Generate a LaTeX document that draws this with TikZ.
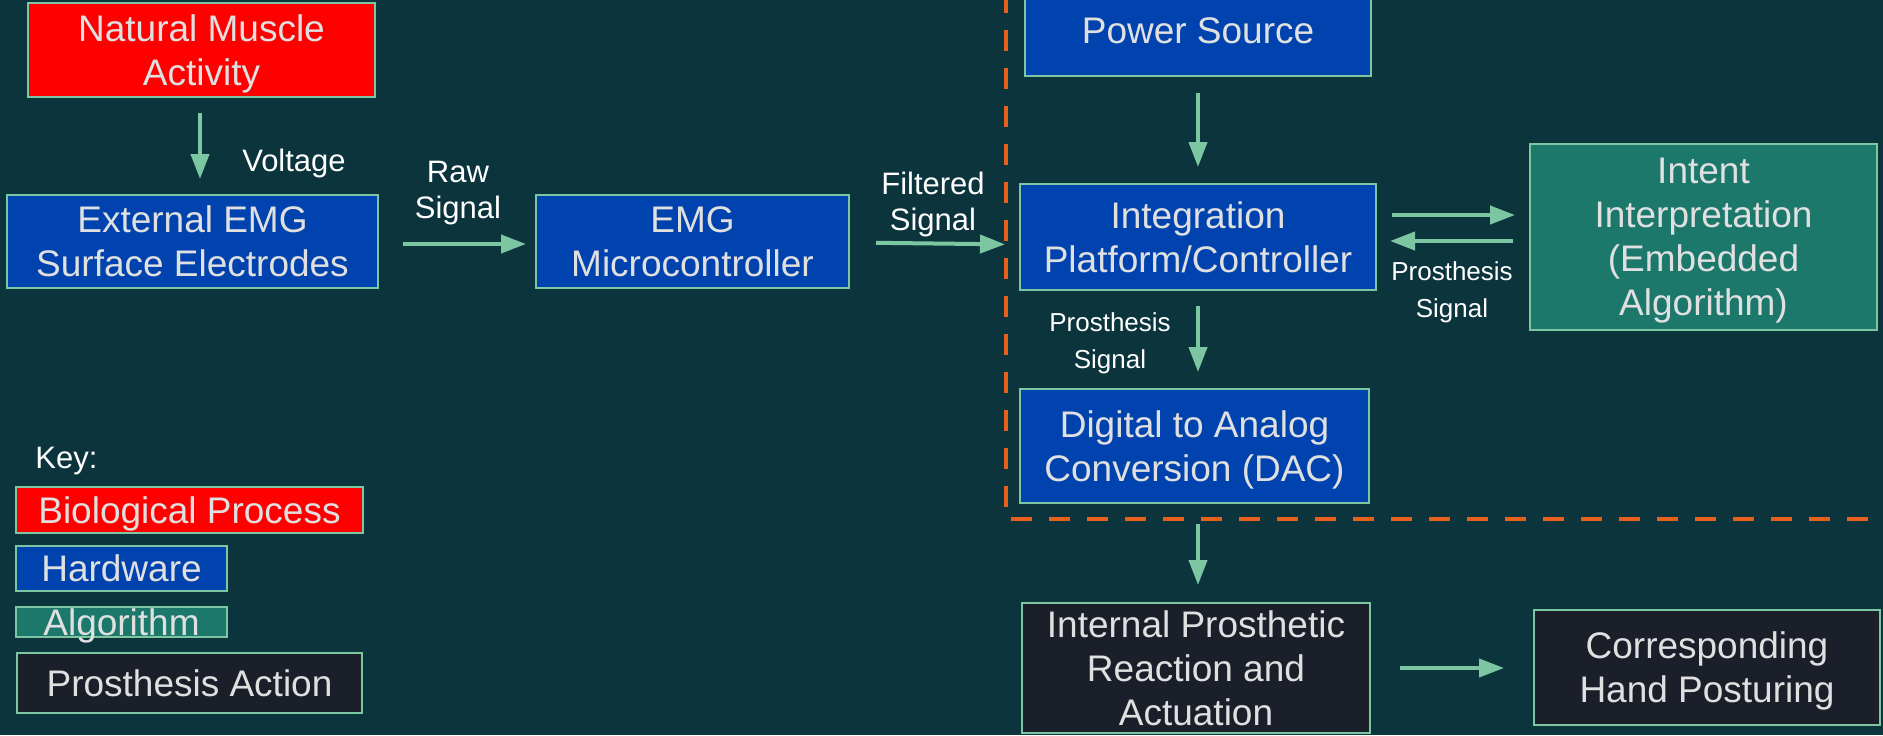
\documentclass[tikz,border=0pt]{standalone}
\usepackage{fontspec}
\setmainfont{Liberation Sans}
\usetikzlibrary{arrows.meta}
\definecolor{bg}{HTML}{0C343D}
\definecolor{bred}{HTML}{FF0000}
\definecolor{bblue}{HTML}{0043AE}
\definecolor{bteal}{HTML}{1B786B}
\definecolor{bblack}{HTML}{1B1F2A}
\definecolor{mint}{HTML}{7CC7A2}
\definecolor{dorange}{HTML}{E8601C}
\definecolor{boxtxt}{HTML}{E0E0E0}
\begin{document}
\begin{tikzpicture}[x=0.5pt,y=-0.5pt,
  box/.style={draw=mint, line width=1pt, inner sep=0pt, align=center, text=boxtxt, text depth=0pt, font=\fontsize{18.5}{22}\selectfont},
  bio/.style={box, fill=bred},
  hw/.style={box, fill=bblue},
  alg/.style={box, fill=bteal},
  act/.style={box, fill=bblack},
  lbl/.style={text=white, align=center, inner sep=0pt, text depth=0pt, font=\fontsize{15.5}{18}\selectfont},
  slbl/.style={text=white, align=center, inner sep=0pt, text depth=0pt, font=\fontsize{13}{18.5}\selectfont},
  arr/.style={draw=mint, line width=2pt, -{Triangle[length=12.5pt,width=9pt]}},
  dashline/.style={draw=dorange, line width=2.25pt, dash pattern=on 10.5pt off 8.5pt}
]
\useasboundingbox (0,0) rectangle (1883,735);
\clip (0,0) rectangle (1883,735);
\fill[bg] (0,0) rectangle (1883,735);

% dashed boundary
\draw[dashline] (1006,-8) -- (1006,519) -- (1900,519);

% main boxes
\node[bio, minimum width=173.5pt, minimum height=47pt] (nat) at (201.5,50) {Natural Muscle\\Activity};
\node[hw, minimum width=185.5pt, minimum height=46.5pt] (ext) at (192.5,241.5) {External EMG\\Surface Electrodes};
\node[hw, minimum width=156.5pt, minimum height=46.5pt] (emg) at (692.5,241.5) {EMG\\Microcontroller};
\node[hw, minimum width=173pt, minimum height=45.5pt] (pow) at (1198,30.5) {Power Source};
\node[hw, minimum width=178pt, minimum height=53pt] (integ) at (1198,237) {Integration\\Platform/Controller};
\node[alg, minimum width=173.5pt, minimum height=93pt] (intent) at (1703.5,237) {Intent\\Interpretation\\(Embedded\\Algorithm)};
\node[hw, minimum width=174.5pt, minimum height=57pt] (dac) at (1194.5,446) {Digital to Analog\\Conversion (DAC)};
\node[act, minimum width=174pt, minimum height=65pt] (int) at (1196,668) {Internal Prosthetic\\Reaction and\\Actuation};
\node[act, minimum width=173pt, minimum height=57.5pt] (corr) at (1707,667.5) {Corresponding\\Hand Posturing};

% key
\node[lbl, anchor=west] (key) at (35,458) {Key:};
\node[bio, minimum width=173.5pt, minimum height=23pt] (kbio) at (189.5,510) {Biological Process};
\node[hw, minimum width=105.5pt, minimum height=22.5pt] (khw) at (121.5,568.5) {Hardware};
\node[alg, minimum width=105.5pt, minimum height=15pt] (kalg) at (121.5,622) {};
\node[box, draw=none] (kalgt) at (kalg.center) {Algorithm};
\node[act, minimum width=172.5pt, minimum height=30pt] (kpa) at (189.5,683) {Prosthesis Action};

% labels
\node[lbl] (lvolt) at (294,160) {Voltage};
\node[lbl] (lraw) at (458,190) {Raw\\Signal};
\node[lbl] (lfilt) at (933,201) {Filtered\\Signal};
\node[slbl] (lps1) at (1452,290) {Prosthesis\\Signal};
\node[slbl] (lps2) at (1110,341) {Prosthesis\\Signal};

% connectors
\draw[arr, shorten <=7.5pt, shorten >=7.5pt] ([xshift=-0.75pt]nat.south) -- ([xshift=-0.75pt]nat.south |- ext.north);
\draw[arr, shorten <=12pt, shorten >=4.5pt] ([yshift=-1.25pt]ext.east) -- ([yshift=-1.25pt]ext.east -| emg.west);
\draw[arr, shorten <=13pt, shorten >=7pt] ([yshift=-0.5pt]emg.east) -- ([yshift=-1.5pt]emg.east -| integ.west);
\draw[arr, shorten <=8pt, shorten >=8pt] (pow.south) -- (integ.north);
\draw[arr, shorten <=7.5pt, shorten >=7pt] ([yshift=11pt]integ.east) -- ([yshift=11pt]integ.east -| intent.west);
\draw[arr, shorten <=8pt, shorten >=6.5pt] ([yshift=-2pt]integ.east -| intent.west) -- ([yshift=-2pt]integ.east);
\draw[arr, shorten <=7.5pt, shorten >=8pt] (integ.south) -- (integ.south |- dac.north);
\draw[arr, shorten <=10pt, shorten >=8.5pt] (integ.south |- dac.south) -- (integ.south |- int.north);
\draw[arr, shorten <=14.5pt, shorten >=14.5pt] (int.east) -- (int.east -| corr.west);
\end{tikzpicture}
\end{document}
